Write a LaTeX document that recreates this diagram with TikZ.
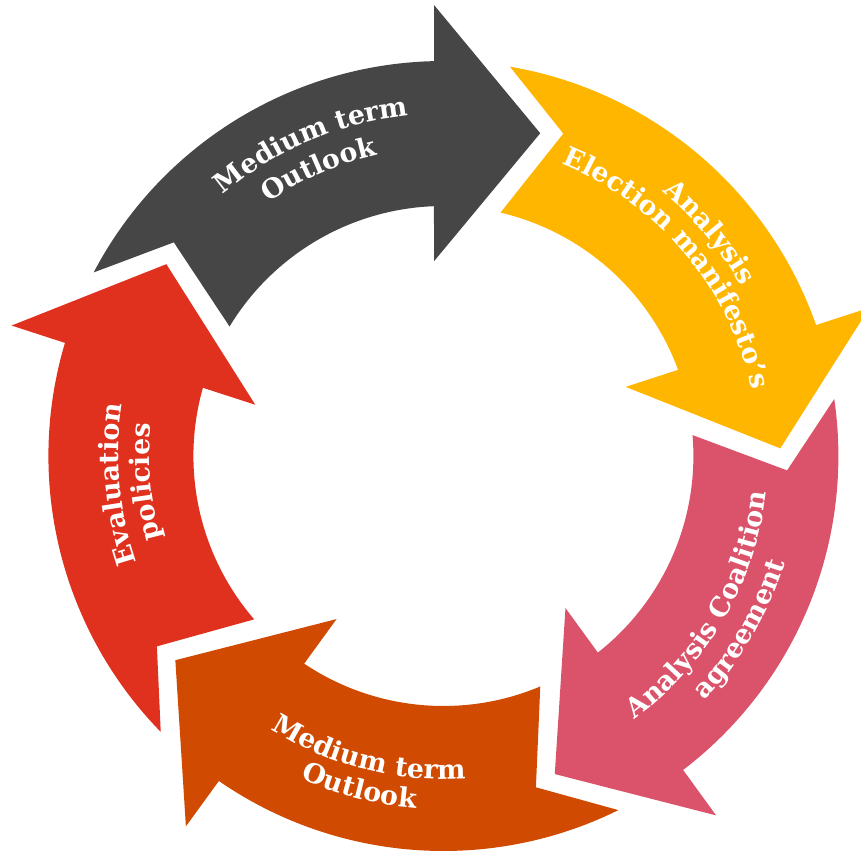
\documentclass[tikz,border=0pt]{standalone}
\usepackage{fontspec}
\newfontfamily\lblserif{DejaVu Serif}
\usetikzlibrary{decorations.text}

\definecolor{arrDark}{HTML}{464646}
\definecolor{arrYellow}{HTML}{FFB600}
\definecolor{arrRose}{HTML}{DB536A}
\definecolor{arrOrange}{HTML}{D04A02}
\definecolor{arrRed}{HTML}{E0301E}

\newcommand\lblfont{\color{white}\lblserif\bfseries\fontsize{26.8pt}{31pt}\selectfont}

\tikzset{
  % white label set along an arc
  arclabel/.style={decorate, decoration={text along path, text align=center, text={|\lblfont|#1}}}
}

% label read clockwise (letter tops facing outward): centre angle, radius, text
\newcommand\cwlabel[3]{%
  \path[arclabel={#3}] (#1+90:#2) arc[start angle=#1+90, end angle=#1-90, radius=#2pt];}
% label read counter-clockwise (letter tops facing the centre)
\newcommand\ccwlabel[3]{%
  \path[arclabel={#3}] (#1-90:#2) arc[start angle=#1-90, end angle=#1+90, radius=#2pt];}

\begin{document}
\begin{tikzpicture}[x=1pt,y=1pt]
\useasboundingbox (0,-851) rectangle (861,0);
\clip (0,-851) rectangle (861,0);
\begin{scope}[shift={(443.4,-456)}]
  % five curved block arrows, each turned 72 degrees clockwise from the last
  \foreach \col [count=\k from 0] in {arrDark,arrYellow,arrRose,arrOrange,arrRed}{
    \pgfmathsetmacro\a{-72*\k}
    \fill[fill=\col]
      (152.3+\a:395) arc[start angle=152.3+\a, end angle=91.36+\a, radius=395pt]
      -- (91.19+\a:451.1) -- (73.3+\a:337) -- (92.76+\a:195)
      -- (92.16+\a:250) arc[start angle=92.16+\a, end angle=148.8+\a, radius=250pt]
      -- (141.6+\a:344) -- cycle;
  }
  % labels
  \cwlabel{113}{342}{Medium term}
  \cwlabel{113.5}{308}{Outlook}
  \cwlabel{40}{343}{Analysis}
  \cwlabel{40}{315}{Election manifesto’s}
  \ccwlabel{-30.2}{325}{Analysis Coalition}
  \ccwlabel{-30.2}{358}{agreement}
  \ccwlabel{-104.2}{323}{Medium term}
  \ccwlabel{-104.2}{353}{Outlook}
  \cwlabel{185}{325}{Evaluation}
  \cwlabel{185}{294}{policies}
\end{scope}
\end{tikzpicture}
\end{document}
